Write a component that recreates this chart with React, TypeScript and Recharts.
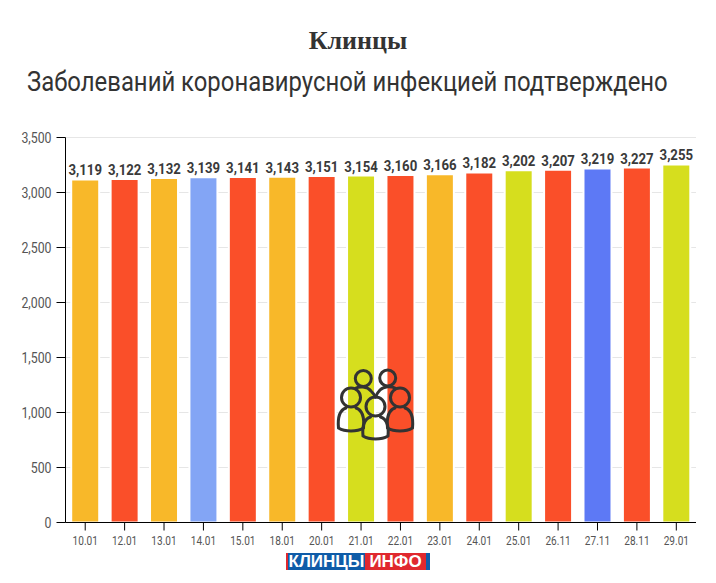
import React from "react";
import { BarChart, Bar, XAxis, YAxis, CartesianGrid, Cell, LabelList } from "recharts";

const categories = ["10.01","12.01","13.01","14.01","15.01","18.01","20.01","21.01","22.01","23.01","24.01","25.01","26.11","27.11","28.11","29.01"];
const values = [3119,3122,3132,3139,3141,3143,3151,3154,3160,3166,3182,3202,3207,3219,3227,3255];
const colors = ["#F8B829","#FA4F29","#F8B829","#83A5F5","#FA4F29","#F8B829","#FA4F29","#D6DE1E","#FA4F29","#F8B829","#FA4F29","#D6DE1E","#FA4F29","#5D79F5","#FA4F29","#D6DE1E"];
const yTicks = [0,500,1000,1500,2000,2500,3000,3500];
const chartData = categories.map((date, i) => ({ date, value: values[i], color: colors[i] }));

const FONT = "Roboto, sans-serif";
const fmt = (v: number) => v.toLocaleString("en-US");

const XTick = ({ x, y, payload }: any) => (
  <g transform={`translate(${x},${y + 12}) scale(0.84,1)`}>
    <text textAnchor="middle" fontFamily={FONT} fontSize={12} fill="#555">{payload.value}</text>
  </g>
);
const YTick = ({ x, y, payload }: any) => (
  <g transform={`translate(${x - 3},${y + 5}) scale(0.88,1)`}>
    <text textAnchor="end" fontFamily={FONT} fontSize={14} fill="#555">{fmt(payload.value)}</text>
  </g>
);
const BarLabel = ({ x, y, width, value }: any) => (
  <g transform={`translate(${x + width / 2},${y - 4}) scale(0.88,1)`}>
    <text textAnchor="middle" fontFamily={FONT} fontWeight={700} fontSize={15} fill="#3a3a3a">{fmt(value)}</text>
  </g>
);

const FrontPerson = ({ cx, cy, top, bottom }: { cx: number; cy: number; top: number; bottom: number }) => (
  <g fill="none" stroke="#333" strokeWidth={3} strokeLinejoin="round" strokeLinecap="round">
    <path d={`M${cx - 5} ${top} C${cx - 11} ${top + 2} ${cx - 13.5} ${top + 9} ${cx - 12.5} ${bottom - 4} C${cx - 6} ${bottom} ${cx + 6} ${bottom} ${cx + 12.5} ${bottom - 4} C${cx + 13.5} ${top + 9} ${cx + 11} ${top + 2} ${cx + 5} ${top}`} />
    <circle cx={cx} cy={cy} r={9.5} />
  </g>
);

export default function App() {
  return (
    <div style={{ position: "absolute", left: 0, top: 0, width: 716, height: 583, background: "#fff", overflow: "hidden" }}>
      <div style={{ position: "absolute", left: 0, width: 716, top: 26, textAlign: "center", fontFamily: "'Liberation Serif', serif", fontWeight: 700, fontSize: 26, color: "#333", lineHeight: "30px" }}>
        Клинцы
      </div>
      <div style={{ position: "absolute", left: 27, top: 66, fontFamily: FONT, fontSize: 27, color: "#333", lineHeight: "32px", whiteSpace: "nowrap", transform: "scaleX(0.884)", transformOrigin: "left top" }}>
        Заболеваний коронавирусной инфекцией подтверждено
      </div>
      <div style={{ position: "absolute", left: 0, top: 0 }}>
        <BarChart width={716} height={583} data={chartData} margin={{ top: 137.5, right: 20, bottom: 0, left: 0 }} barCategoryGap="14.5%">
          <CartesianGrid horizontal vertical={false} stroke="#e6e6e6" strokeWidth={1} />
          <XAxis dataKey="date" interval={0} tick={<XTick />} tickSize={8} tickLine={{ stroke: "#000" }} axisLine={{ stroke: "#000" }} height={60.5} />
          <YAxis type="number" domain={[0, 3500]} ticks={yTicks} width={65.5} tick={<YTick />} tickSize={9} tickLine={{ stroke: "#000" }} axisLine={{ stroke: "#000" }} />
          <Bar dataKey="value" isAnimationActive={false}>
            {chartData.map((d) => <Cell key={d.date} fill={d.color} stroke="#fff" strokeWidth={2} />)}
            <LabelList dataKey="value" content={<BarLabel />} />
          </Bar>
        </BarChart>
      </div>
      <svg width={716} height={583} style={{ position: "absolute", left: 0, top: 0 }}>
        <g fill="none" stroke="#333" strokeWidth={3} strokeLinecap="round">
          <circle cx={363.3} cy={378.5} r={8} />
          <circle cx={387.7} cy={378} r={8} />
          <path d="M356 388 C359 386.5 367 386 371 391 C373 393 374.5 395 375.5 397" />
          <path d="M395 388 C391 386 384 386 380 390 C378 392 376.5 394.5 375.5 397" />
        </g>
        <FrontPerson cx={351} cy={397.5} top={408} bottom={432} />
        <FrontPerson cx={400} cy={397.5} top={408} bottom={432} />
        <FrontPerson cx={375.5} cy={406.5} top={417} bottom={440} />
      </svg>
      <div style={{ position: "absolute", left: 286, top: 553, width: 144, height: 17, display: "flex", fontFamily: "'Liberation Sans', sans-serif", fontWeight: 700, fontSize: 17, lineHeight: "17px", color: "#fff" }}>
        <div style={{ width: 2, background: "#E0282E" }} />
        <div style={{ width: 77, background: "#0F5CA8", textAlign: "center", whiteSpace: "nowrap" }}>КЛИНЦЫ</div>
        <div style={{ width: 61, background: "#E0282E", textAlign: "center", whiteSpace: "nowrap" }}>ИНФО</div>
        <div style={{ width: 4, background: "#0F5CA8" }} />
      </div>
    </div>
  );
}
